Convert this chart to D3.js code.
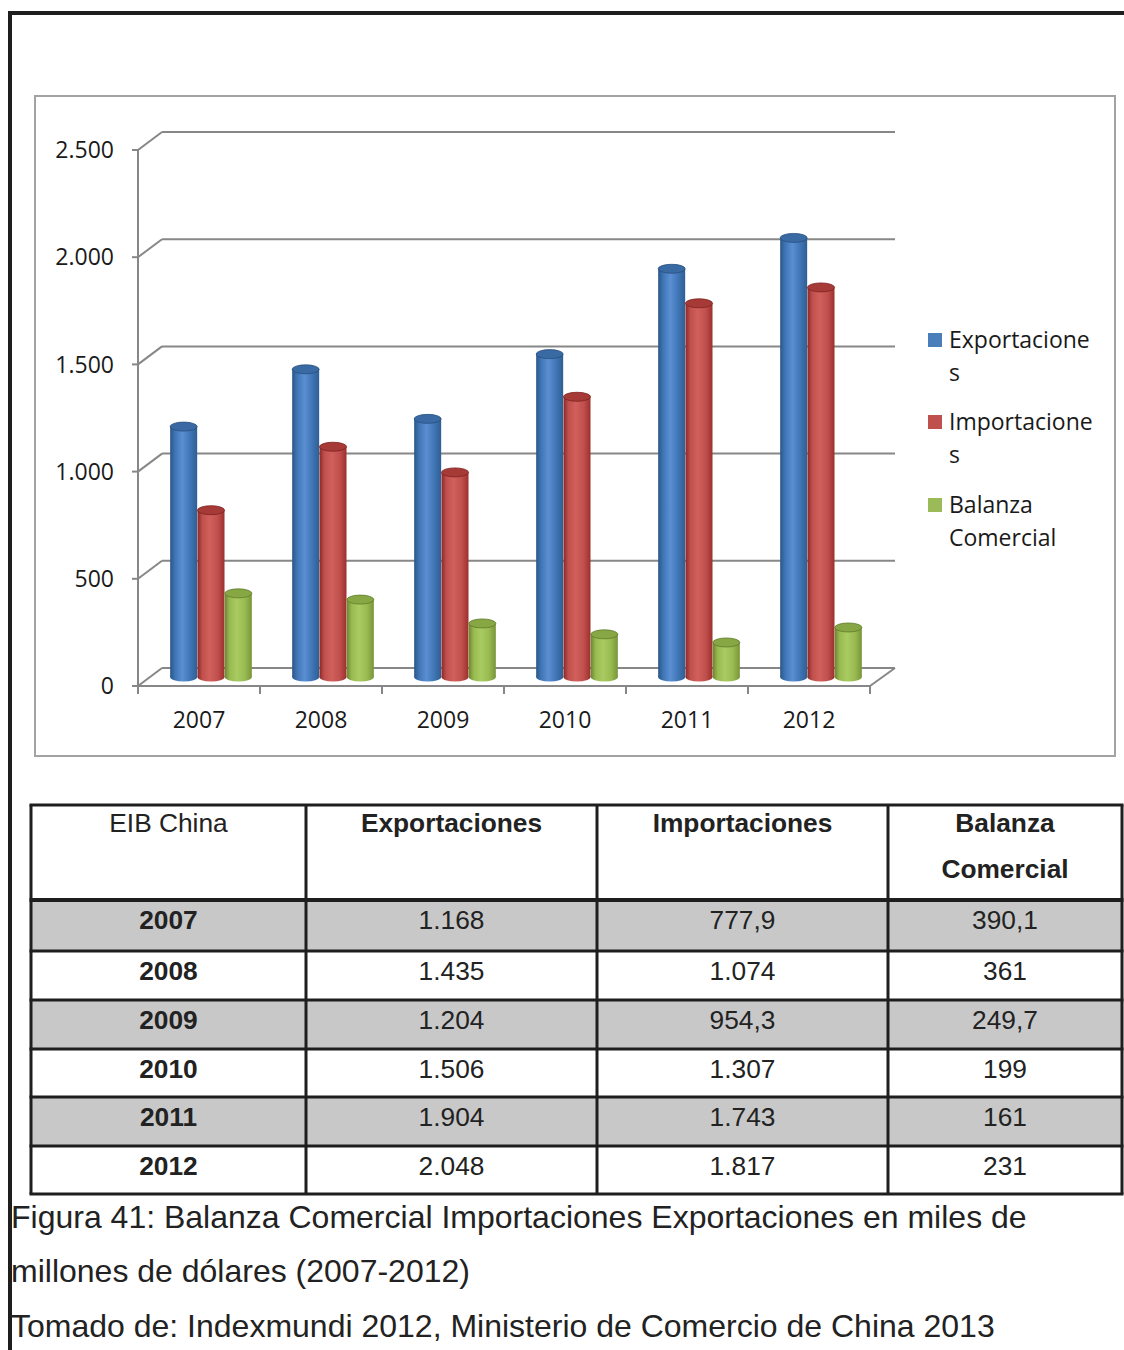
<!DOCTYPE html>
<html><head><meta charset="utf-8">
<script src="https://cdn.jsdelivr.net/npm/d3@7"></script>
<style>
html,body{margin:0;padding:0;background:#fff;}
svg{display:block;}
</style></head>
<body>
<script>
// ---- data ----
const years = ["2007","2008","2009","2010","2011","2012"];
const seriesNames = ["Exportaciones","Importaciones","Balanza Comercial"];
const exportaciones = [1168,1435,1204,1506,1904,2048];
const importaciones = [777.9,1074,954.3,1307,1743,1817];
const balanza = [390.1,361,249.7,199,161,231];
const yTicks = [0,500,1000,1500,2000,2500];
const yTickLabels = ["0","500","1.000","1.500","2.000","2.500"];
const legendLines = [["Exportacione","s"],["Importacione","s"],["Balanza","Comercial"]];
const tableHeader = ["EIB China","Exportaciones","Importaciones","Balanza Comercial"];
const tableExp = ["1.168","1.435","1.204","1.506","1.904","2.048"];
const tableImp = ["777,9","1.074","954,3","1.307","1.743","1.817"];
const tableBal = ["390,1","361","249,7","199","161","231"];
const captionLines = ["Figura 41: Balanza Comercial Importaciones Exportaciones en miles de","millones de dólares (2007-2012)","Tomado de: Indexmundi 2012, Ministerio de Comercio de China 2013"];

const W=1124,H=1350;
const svg=d3.select("body").append("svg").attr("width",W).attr("height",H);

const palettes=[
 {edge:"#2a5687",mid:"#3f75b5",hi:"#5a8fd2",edge2:"#2f5e93",top:"#3a6aa3",rim:"#274f7f",leg:"#4a7ebb"},
 {edge:"#8a2826",mid:"#c0504d",hi:"#d1605c",edge2:"#9c2f2c",top:"#a63a37",rim:"#7f2220",leg:"#c0504d"},
 {edge:"#6b8730",mid:"#98ba50",hi:"#a9cc62",edge2:"#78953a",top:"#86a744",rim:"#5f7a2a",leg:"#9bbb59"}
];
const defs=svg.append("defs");
palettes.forEach((p,i)=>{
  const g=defs.append("linearGradient").attr("id","cyl"+i).attr("x1","0").attr("x2","1").attr("y1","0").attr("y2","0");
  [[0,p.edge],[0.18,p.mid],[0.45,p.hi],[0.75,p.mid],[1,p.edge2]].forEach(s=>g.append("stop").attr("offset",s[0]).attr("stop-color",s[1]));
});

// outer black frame
svg.append("line").attr("x1",10).attr("x2",10).attr("y1",11).attr("y2",H).attr("stroke","#1e1e1e").attr("stroke-width",4);
svg.append("line").attr("x1",8).attr("x2",W).attr("y1",13).attr("y2",13).attr("stroke","#1e1e1e").attr("stroke-width",4);

// chart box
svg.append("rect").attr("x",35).attr("y",96).attr("width",1080).attr("height",660).attr("fill","#fff").attr("stroke","#a3a3a3").attr("stroke-width",2);

// scales
const depthX=24, depthY=18;
const yFront=d3.scaleLinear().domain([0,2500]).range([686,150]);
const x=d3.scaleBand().domain(years).range([138,870]);
const xs=d3.scaleBand().domain(seriesNames).range([32,114]);
const gridColor="#878787";

const g=svg.append("g");
// back wall gridlines + side wall diagonals
yTicks.forEach(t=>{
  const yf=yFront(t), yb=yf-depthY;
  g.append("line").attr("x1",138+depthX).attr("x2",870+depthX+1).attr("y1",yb).attr("y2",yb).attr("stroke",gridColor).attr("stroke-width",2);
  g.append("line").attr("x1",138).attr("x2",138+depthX).attr("y1",yf).attr("y2",yb).attr("stroke",gridColor).attr("stroke-width",2);
  g.append("line").attr("x1",132).attr("x2",138).attr("y1",yf).attr("y2",yf).attr("stroke",gridColor).attr("stroke-width",2);
});
// floor
g.append("line").attr("x1",138).attr("x2",870).attr("y1",yFront(0)).attr("y2",yFront(0)).attr("stroke",gridColor).attr("stroke-width",2);
g.append("line").attr("x1",870).attr("x2",870+depthX+1).attr("y1",yFront(0)).attr("y2",yFront(0)-depthY).attr("stroke",gridColor).attr("stroke-width",2);
g.append("line").attr("x1",138).attr("x2",138).attr("y1",yFront(2500)).attr("y2",yFront(0)+1).attr("stroke",gridColor).attr("stroke-width",2);
[...years.map(d=>x(d)),870].forEach(px=>{
  g.append("line").attr("x1",px).attr("x2",px).attr("y1",yFront(0)).attr("y2",yFront(0)+8).attr("stroke",gridColor).attr("stroke-width",2);
});

// y labels
yTicks.forEach((t,i)=>{
  svg.append("text").attr("x",114).attr("y",yFront(t)).attr("dy","0.36em").attr("text-anchor","end")
    .attr("font-family","'Open Sans',sans-serif").attr("font-size",23).attr("fill","#1a1a1a").text(yTickLabels[i]);
});
// x labels
years.forEach(yr=>{
  svg.append("text").attr("x",x(yr)+x.bandwidth()/2).attr("y",728).attr("text-anchor","middle")
    .attr("font-family","'Open Sans',sans-serif").attr("font-size",23).attr("fill","#1a1a1a").text(yr);
});

// bars (cylinders) at mid-depth
const midShift=depthY/2;
const yMid=v=>yFront(v)-midShift;
const allSeries=[exportaciones,importaciones,balanza];
const bw=27, ry=4.5;
years.forEach((yr,i)=>{
  allSeries.forEach((vals,s)=>{
    const p=palettes[s];
    const cx=x(yr)+xs(seriesNames[s])+xs.bandwidth()/2;
    const yt=yMid(vals[i]), yb=yMid(0);
    const bg=g.append("g");
    bg.append("ellipse").attr("cx",cx).attr("cy",yb).attr("rx",bw/2).attr("ry",ry).attr("fill",`url(#cyl${s})`);
    bg.append("rect").attr("x",cx-bw/2).attr("y",yt).attr("width",bw).attr("height",yb-yt).attr("fill",`url(#cyl${s})`);
    bg.append("ellipse").attr("cx",cx).attr("cy",yt).attr("rx",bw/2).attr("ry",ry).attr("fill",p.top).attr("stroke",p.rim).attr("stroke-width",0.8);
  });
});

// legend
const legY=[340,422,505];
legendLines.forEach((lines,i)=>{
  svg.append("rect").attr("x",928).attr("y",legY[i]-7).attr("width",14).attr("height",14).attr("fill",palettes[i].leg);
  const t=svg.append("text").attr("font-family","'Open Sans',sans-serif").attr("font-size",23).attr("fill","#1a1a1a");
  lines.forEach((ln,j)=>{
    t.append("tspan").attr("x",949).attr("y",legY[i]+j*33).attr("dy","0.36em").text(ln);
  });
});

// table
const colX=[31,306,597,888,1122];
const rowY=[805,900,951,1000,1049,1097,1146,1194];
const tg=svg.append("g");
years.forEach((yr,i)=>{
  if(i%2===0) tg.append("rect").attr("x",colX[0]).attr("y",rowY[i+1]).attr("width",colX[4]-colX[0]).attr("height",rowY[i+2]-rowY[i+1]).attr("fill","#c8c8c8");
});
const tfont="'Liberation Sans',Arial,sans-serif";
const cellText=(cx,y,txt,bold)=>tg.append("text").attr("x",cx).attr("y",y).attr("text-anchor","middle").attr("font-family",tfont)
  .attr("font-size",26.3).attr("font-weight",bold?"bold":"normal").attr("fill","#222").text(txt);
const colC=i=>(colX[i]+colX[i+1])/2;
cellText(colC(0),832,tableHeader[0],false);
cellText(colC(1),832,tableHeader[1],true);
cellText(colC(2),832,tableHeader[2],true);
cellText(colC(3),832,"Balanza",true);
cellText(colC(3),878,"Comercial",true);
years.forEach((yr,i)=>{
  const y=rowY[i+1]+29;
  cellText(colC(0),y,yr,true);
  cellText(colC(1),y,tableExp[i],false);
  cellText(colC(2),y,tableImp[i],false);
  cellText(colC(3),y,tableBal[i],false);
});
// lines
const lc="#1e1e1e";
rowY.forEach((ry2,i)=>{
  tg.append("line").attr("x1",colX[0]-1.5).attr("x2",colX[4]+1.5).attr("y1",ry2).attr("y2",ry2).attr("stroke",lc).attr("stroke-width",i===1?4:3);
});
colX.forEach(cx=>{
  tg.append("line").attr("x1",cx).attr("x2",cx).attr("y1",rowY[0]).attr("y2",rowY[rowY.length-1]).attr("stroke",lc).attr("stroke-width",3);
});

// caption
const capY=[1228,1282,1337];
captionLines.forEach((ln,i)=>{
  svg.append("text").attr("x",11).attr("y",capY[i]).attr("font-family",tfont).attr("font-size",32).attr("fill","#222").text(ln);
});
</script>
</body></html>
